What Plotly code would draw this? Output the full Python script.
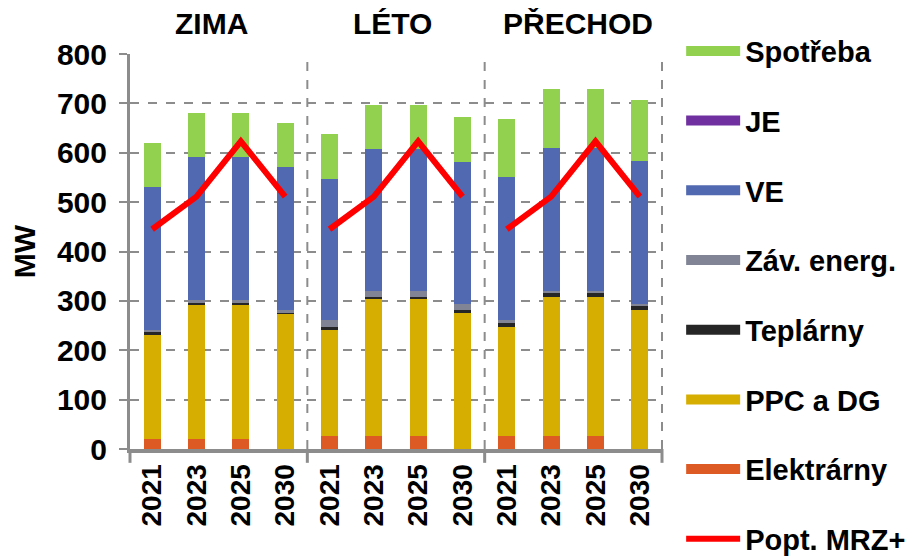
import plotly.graph_objects as go
from plotly.subplots import make_subplots

years = ["2021", "2023", "2025", "2030"]
seasons = ["ZIMA", "LÉTO", "PŘECHOD"]

# stacked components per season (MW), bottom to top
elektrarny = {"ZIMA": [20, 20, 20, 0], "LÉTO": [26, 26, 26, 0], "PŘECHOD": [26, 26, 26, 0]}
ppc_dg = {"ZIMA": [211, 272, 272, 274], "LÉTO": [216, 277, 277, 276], "PŘECHOD": [222, 281, 281, 281]}
teplarny = {"ZIMA": [6, 5, 5, 3], "LÉTO": [6, 5, 5, 5], "PŘECHOD": [8, 8, 8, 9]}
zav_energ = {"ZIMA": [5, 4, 4, 4], "LÉTO": [13, 12, 12, 13], "PŘECHOD": [5, 5, 5, 4]}
ve = {"ZIMA": [289, 290, 290, 290], "LÉTO": [286, 287, 287, 287], "PŘECHOD": [289, 290, 290, 289]}
je = {"ZIMA": [0, 0, 0, 0], "LÉTO": [0, 0, 0, 0], "PŘECHOD": [0, 0, 0, 0]}
spotreba = {"ZIMA": [88, 89, 89, 90], "LÉTO": [91, 90, 90, 91], "PŘECHOD": [119, 119, 119, 123]}
popt_mrz = {"ZIMA": [445, 511, 623, 511], "LÉTO": [445, 511, 623, 511], "PŘECHOD": [445, 511, 623, 511]}

series = [
    ("Elektrárny", elektrarny, "#DE5A24", 7),
    ("PPC a DG", ppc_dg, "#D6AE01", 6),
    ("Teplárny", teplarny, "#262626", 5),
    ("Záv. energ.", zav_energ, "#808494", 4),
    ("VE", ve, "#5069B0", 3),
    ("JE", je, "#7030A0", 2),
    ("Spotřeba", spotreba, "#92D050", 1),
]

FONT = "Liberation Sans, Arial, sans-serif"
GRID = "#8C8C8C"

fig = make_subplots(rows=1, cols=3, shared_yaxes=True, horizontal_spacing=0,
                    subplot_titles=seasons)

for i, s in enumerate(seasons):
    col = i + 1
    for name, data, color, rank in series:
        fig.add_trace(go.Bar(x=years, y=data[s], name=name, marker_color=color,
                             marker_line_width=0, legendgroup=name,
                             showlegend=False), row=1, col=col)
    fig.add_trace(go.Scatter(x=years, y=popt_mrz[s], name="Popt. MRZ+", mode="lines",
                             line=dict(color="#FF0000", width=6), legendgroup="popt",
                             legendrank=8, showlegend=(i == 0)), row=1, col=col)

# legend entries for the bar series drawn as wide swatches
for name, data, color, rank in series:
    fig.add_trace(go.Scatter(x=[None], y=[None], mode="lines", name=name,
                             line=dict(color=color, width=16), legendgroup=name,
                             legendrank=rank, showlegend=True, hoverinfo="skip"))

fig.update_layout(
    width=920, height=557,
    barmode="stack", bargap=0.62,
    plot_bgcolor="white", paper_bgcolor="white",
    margin=dict(l=122, r=266, t=46, b=116),
    font=dict(family=FONT, size=22, color="black", weight="bold"),
    legend=dict(x=1.036, y=1.072, xanchor="left", yanchor="top",
                font=dict(size=29, weight="bold"), tracegroupgap=29,
                itemwidth=54, maxheight=640, bgcolor="rgba(0,0,0,0)"),
)

title_shift = [-7, -4, 5]
for ann, dx in zip(fig.layout.annotations, title_shift):
    ann.font = dict(family=FONT, size=30, color="black", weight="bold")
    ann.yshift = 12
    ann.xshift = dx

fig.update_yaxes(range=[0, 800], dtick=100, showgrid=True, gridcolor=GRID,
                 gridwidth=2, griddash="dash", zeroline=False)
fig.update_yaxes(row=1, col=1, title_text="MW", title_font=dict(size=30, weight="bold"),
                 title_standoff=14, showline=True, linecolor=GRID, linewidth=3,
                 ticks="outside", ticklen=8, tickwidth=2, tickcolor=GRID,
                 ticklabelstandoff=6, tickfont=dict(size=30, weight="bold"))
fig.update_xaxes(type="category", tickangle=-90, showgrid=False, showline=True,
                 linecolor=GRID, linewidth=4, ticks="", tickfont=dict(size=28, weight="bold"))

# dashed separators between seasons and on the right edge
for ax in ["x", "x2", "x3"]:
    fig.add_shape(type="line", xref=f"{ax} domain", yref="paper", x0=1, x1=1, y0=0, y1=1,
                  line=dict(color=GRID, width=2, dash="dash"))
    fig.add_shape(type="line", xref=f"{ax} domain", yref="paper", x0=1, x1=1, y0=0, y1=-0.035,
                  line=dict(color=GRID, width=3))
fig.add_shape(type="line", xref="x domain", yref="paper", x0=0, x1=0, y0=0, y1=-0.035,
              line=dict(color=GRID, width=3))

fig.write_html("out.html")
